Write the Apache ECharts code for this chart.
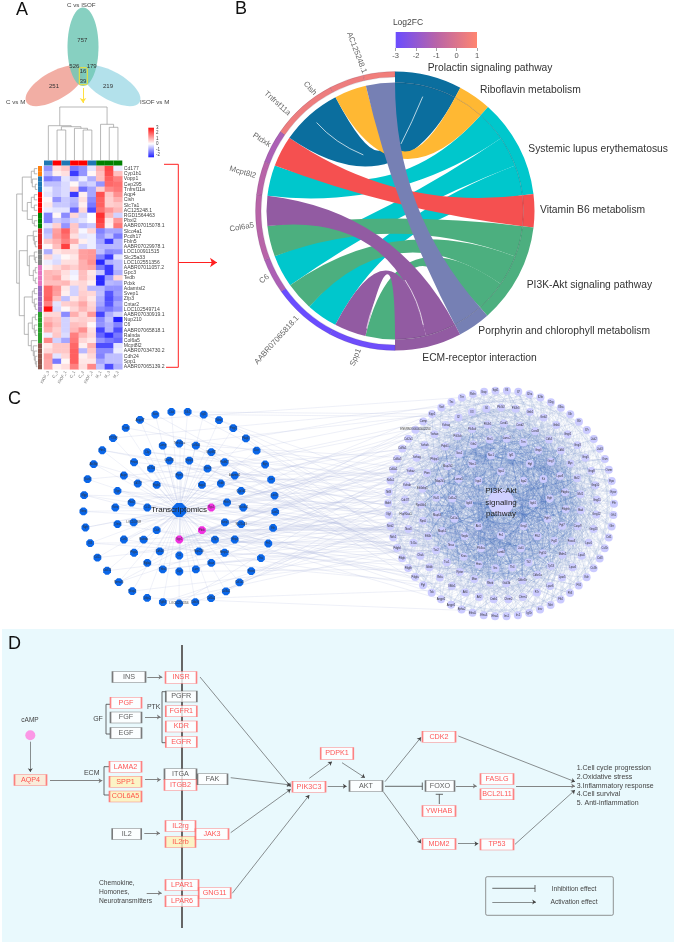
<!DOCTYPE html>
<html><head><meta charset="utf-8">
<style>html,body{margin:0;padding:0;background:#fff}#c{width:674px;height:945px}</style>
<script src="https://cdn.jsdelivr.net/npm/echarts@6/dist/echarts.min.js"></script>
</head><body><div id="c"></div>
<script>
// ---------- DATA ----------
const sampleNames=['ISOF_3','C_3','ISOF_1','C_1','C_2','ISOF_2','M_1','M_3','M_2'];
const sampleGroups=['ISOF','C','ISOF','C','C','ISOF','M','M','M'];
const geneNames=['Cd177','Cyp1b1','Vopp1','Cep295','Tnfrsf11a','Aqp4','Cish','Slc7a1','AC125248.1','RGD1564463','Pbxl2','AABR07015078.1','Slco4a1','Pcdh17','Fbln5','AABR07029978.1','LOC100911515','Slc25a33','LOC102551356','AABR07011057.2','Gpc3','Tedb','Pdxk','Adamtsl2','Svep1','Zfp3','Cntar2','LOC102549714','AABR07030919.1','Nup210','C6','AABR07065818.1','Ralnda','Col6a5','Mcpt8l2','AABR07034730.2','Cdh24','Spp1','AABR07065139.2'];
const geneGroups=[0,0,1,1,1,2,2,2,2,3,3,3,4,4,4,4,5,5,5,6,6,6,6,7,7,7,7,7,8,8,8,8,8,8,9,9,9,9,9];
const heatValues=[
[-1.2,.4,.7,-1.5,-1.2,-.3,1,2.3,-.2],[-.8,.2,.4,-2.2,-1.2,.1,.8,2.2,.8],[-1.5,-1.3,-.3,-.8,-.2,-.9,.8,2,1.6],[-.7,-.7,-.4,.1,-.7,-.5,-1.2,1.9,1.8],[-.2,-.6,-.4,.6,-1.6,-1,.6,1.5,1.7],
[-.3,-.6,-.4,-2.2,.2,-1,2.2,.7,1.4],[.1,-1.2,-.6,-.8,.4,-1.3,2,.6,1],[.3,-.6,-.6,-.9,.2,-1.5,2,.6,.7],[-.2,-.3,-.3,-1.7,.5,-2,1.8,1.3,.9],
[-1.4,.1,-1.3,.5,-.5,0,2.6,.9,-.5],[-1.4,-.6,-.8,-.5,-.3,0,2.4,.3,1.3],[-.3,.6,-1.2,.7,-.8,-.6,2.2,.2,1.7],
[-.8,1.2,2,.7,-.1,.5,-1.4,-1,-1],[-.6,1.3,1.8,.4,-.3,-.2,-1.2,-.7,-1.5],[.7,1,1.6,1,.2,-.2,-1,-2.2,-.8],[.1,.8,2.4,.3,-.5,-.2,-.8,-.8,-.8],
[-.9,.3,.5,.5,1.2,1.3,-.7,-1.3,-1.2],[.5,-.3,.1,.3,1.2,1.3,-1.4,-2.2,-.3],[-.2,-.4,.4,.4,1,1.4,-2.4,-.9,-.7],
[.2,.5,.8,.6,1,1.1,-1.5,-2.2,-.7],[.9,.8,.4,-.2,.8,.3,-.6,-2.2,-.9],[.9,1.1,.3,-.1,.8,.4,-2.4,-1.1,.5],[.8,.8,.9,.4,.5,.2,-2.4,-.8,-.9],
[1.9,1.3,.3,-.5,.5,-.8,-.8,-1.2,-1.2],[1.9,1.2,.2,-.5,.6,.5,-.7,-1.9,-1.1],[2,.8,-.7,.3,.7,.3,-.9,-2,-1.3],[1.6,-.3,.6,.7,1.1,.5,-1,-1.9,-1],[3,-.4,.1,.5,.9,.6,-1.3,-1.5,-1.2],
[.5,.5,-1.3,1,.5,1.3,-2.1,-.9,-.5],[.9,.7,-.5,.5,.6,.5,-1.3,-.7,-2.6],[1.2,.8,-.5,.8,.7,.1,-1.2,-.9,-1.4],[1,.6,-.5,.9,1.4,.4,-2.1,-.9,-2],[-.2,.7,-.4,1.6,.9,.5,-1.7,-2.3,-1.5],[1.5,-.5,-1,1.7,.5,.3,-1.2,-1.5,-1.7],
[.3,.7,.7,1.9,.2,1,-2,-2,-.3],[.5,.7,.7,2,-.8,.7,-1.3,-1.3,-.2],[1.2,-.3,.5,2,.2,.5,-1.4,-.7,-.7],[1.1,-1.5,.1,2,.3,.3,-1,-.7,-.7],[1.1,.2,.4,1.6,.4,1.5,-.7,-2,-.9]];
const colTree=[53,[34.3,1,[33.3,[30,2,3],[31.7,4,[30,5,6]]]],[35.7,7,[32.7,8,9]]];
const rowTree=[20.6,[15,[6,[3,1,2],[5,3,[2,4,5]]],[10,[6,[3,6,7],[3,8,9]],[5,10,[3,11,12]]]],
 [18,[10,[4,13,[3,14,[2,15,16]]],[8,[3,17,[2,18,19]],[4,[2,20,21],[2,22,23]]]],
 [13,[5,[3,24,25],[3,26,[2,27,28]]],[9,[5,[2,29,30],[3,31,[2,32,33]]],[6,34,[4,35,[3,36,[2,37,[1,38,39]]]]]]]]];
const vennCounts=['757','526','179','16','39','251','219'];
const vennSets=['C vs ISOF','C vs M','ISOF vs M'];
// chord: pathway sector start/end (degrees clockwise from top)
const pathways=['Prolactin signaling pathway','Riboflavin metabolism','Systemic lupus erythematosus','Vitamin B6 metabolism','PI3K-Akt signaling pathway','Porphyrin and chlorophyll metabolism','ECM-receptor interaction'];
const pathwayStart=[0,27.9,41.8,83,96.8,138.6,152.2];
const pathwayEnd=[27.9,41.8,83,96.8,138.6,152.2,180];
const chordGenes=['Spp1','AABR07065818.1','C6','Col6a5','Mcpt8l2','Ptdxk','Tnfrsf11a','Cish','AC125248.1'];
const chordGeneStart=[180,207.7,234.7,249.4,276.8,290.7,304.7,332.4,346.9];
const chordGeneEnd=[207.7,234.7,249.4,276.8,290.7,304.7,332.4,346.9,360];
const chordGeneFC=[-2.9,-3,-1.3,-1,-1,-1.3,.5,.5,.6];
// ribbons: pathway index, pathway from/to, gene from/to
const ribbons=[
[2,41.8,55.5,276.8,290.7],[2,55.5,69.2,234.7,249.4],[2,69.2,83,207.7,221.9],
[4,96.8,110.7,249.4,263.3],[4,110.7,124.6,221.9,234.7],[4,124.6,138.6,180,193.3],
[6,152.2,166,263.3,276.8],[6,166,180,193.3,207.7],
[3,83,96.8,290.7,304.7],[0,0,27.9,304.7,332.4],[1,27.9,41.8,332.4,346.9],[5,138.6,152.2,346.9,360]];
const leftNetNames=['Ptpn5','Aqp4','Rgs1','Pdxk','Spp1','Cish','Ccl2','Hspb1',
'Vopp1','Gpc3','Tedb','Fbln5','Svep1','Zfp3','Nup210','C6','Cdh24','Ralnda','LOC100909','Pbxl2','Cd177','Slc7a1','Cep295',
'Tnfrsf11a','Col6a5','Mcpt8l2','Pcdh17','Adamtsl2','Cyp1b1','Slco4a1','Slc25a33','Sfrp4','Mmp13','Acan','Lum','Dpt','Thbs4','Bglap','Ptgs1','Ccn5','Omd','Kera','Ogn','Aspn','Fmod','Cilp','Comp',
'Dlk1','Igf2','Mest','Peg3','Plagl1','Dcn','Bgn','Lox','Loxl1','Loxl2','Eln','Fn1','Tnc','Postn','Col1a1','Col3a1','Col5a2','Ddx3y','LOC102551356','Tgfb3','Ltbp2','Wisp2','Sema3c','Cxcl12','Ccl11','Il33','Ngfr','Nrep','Mgp','Gas6','Abi3bp','Fbn1','PTX3H','Tnxb','Angptl7','Sost','Ctsk'];
const rightNetNames=['Itga1','Itga2','Itgb1','Gng2','Fn1','Akt1','Itgb3','Itga5',
'Igf1','Hgf','Kit','Egfr','Fgfr1','Ptk2','Jak1','Lamb2','Pik3ca','Vegfa','Col1a1','Col1a2','Lama5','Thbs1','Rac1',
'Lamc2','Tnn','Gng4','Gng7','Lpar3','Pdgfra','Pdgfrb','Fgf7','Fgf2','Fgf10','Tlr2','Tlr4','Src','Hras','Kras','Nras','Mapk1','Mapk3','Raf1','Map2k1','Map2k2','Sos1','Grb2','Shc1',
'Ccnd1','Ccnd2','Ccnd3','Cdk4','Cdk6','Myc','Bcl2','Mcl1','Bad','Casp9','Foxo3','Mdm2','Tp53','Cdkn1a','Cdkn1b','Gsk3b','Rheb','Mtor','Rptor','Tsc1','Tsc2','Eif4b','Rps6','Rps6kb1','Eif4ebp1','Pten','Phlpp1','Pdpk1','Pik3cb','Pik3cd','Pik3r1',
'Pik3r2','Pik3r3','Gnb1','Gnb2','Gnb4','Gngt1','Gng3','Gng5','Gng8','Gng10','Gng11','Gng12','Gng13','Lpar1','Lpar2','Lpar4','Lpar5','Lpar6','F2r','Chrm1','Chrm2','Creb1','Atf2','Atf4','Nfkb1','Rela','Ikbkb','Chuk','Tcl1a','Nos3','Hsp90aa1','Cdc37','Ywhab','Ywhaz','Ywhag','Ywhah','Ywhae','Ywhaq',
'Il2','Il3','Il4','Il6','Il7','Il2ra','Il2rb','Il2rg','Il3ra','Il4r','Il6r','Il7r','Jak2','Jak3','Osm','Osmr','Epo','Epor','Prlr','Gh1','Ghr','Csf1','Csf1r','Csf3','Csf3r','Kdr','Flt1','Flt3','Flt4','Met','Insr','Igf1r','Irs1','Ins1','Efna1','Efna3','Efna5','Epha2','Angpt1','Angpt2','Tek','Pgf','Pdgfa','Pdgfb','Pdgfc','Pdgfd','Ntrk1','Ntrk2','Ngf','Bdnf','Ntf3','Nr4a1','Col4a1','Col6a5','Col9a1','Col2a1','ENSRNOG00000042254','Comp','Spp1','Vwf','Tnc','Tnr','Reln','Ibsp','Sgk1'];
const pathwayStepsEffect=['1.Cell cycle progression','2.Oxidative stress','3.Inflammatory response','4.Cell survival','5. Anti-inflammation'];

// ---------- STYLE / LAYOUT ----------
const FF='"Liberation Sans",Arial,sans-serif';
const chordColors=['#0B6E9E','#FFB833','#00C7CC','#F55050','#4CAF7F','#7680B4','#925BA2'];
const groupColors={ISOF:'#1F77B4',C:'#FF0000',M:'#008000'};
const geneGroupColors=['#FF7F0E','#1F77B4','#FF0000','#008000','#D62728','#7F7F7F','#E377C2','#9467BD','#2CA02C','#8C564B'];
const octagon='path://M30,0 L70,0 L100,30 L100,70 L70,100 L30,100 L0,70 L0,30 Z';

function t(x,y,s,size,fill,opt){opt=opt||{};return {type:'text',x,y,z:100,silent:true,rotation:opt.rot?-opt.rot*Math.PI/180:0,
  style:{text:s,fontSize:size,fontFamily:FF,fill,align:opt.align||'left',verticalAlign:'middle',opacity:opt.opacity==null?1:opt.opacity}};}
function hex(c){return [1,3,5].map(i=>parseInt(c.substr(i,2),16));}
function mix(a,b,f){const A=hex(a),B=hex(b);return 'rgb('+A.map((v,i)=>Math.round(v+(B[i]-v)*f)).join(',')+')';}
function fcColor(v){return v<-1?mix('#6A4CFF','#B864A8',(v+3)/2):mix('#B864A8','#FF8570',(v+1)/2);}

// ---------- panel A helpers ----------
const heatData=[];heatValues.forEach((r,i)=>r.forEach((v,j)=>heatData.push([j,i,v])));
const heatStops=[];for(let i=0;i<12;i++){const v=-2.5+i*.5;heatStops.push(v<0?mix('#2020FF','#FFFFFF',(v+2.5)/2.5):mix('#FFFFFF','#FF1010',v/3));}
const H={l:44,t:166,w:78.3,h:203.3};
function treeSegs(node,pos,base,dir,out){ // returns [position,height]
  if(typeof node==='number')return [pos(node),0];
  const a=treeSegs(node[1],pos,base,dir,out),b=treeSegs(node[2],pos,base,dir,out),h=node[0];
  const P=(p,q)=>dir==='col'?[p,base-q]:[base-q,p];
  out.push({coords:[P(a[0],a[1]),P(a[0],h),P(b[0],h),P(b[0],b[1])]});
  return [(a[0]+b[0])/2,h];
}
const dendro=[];
treeSegs(colTree,i=>H.l+(i-.5)*H.w/9,160,'col',dendro);
treeSegs(rowTree,i=>H.t+(i-.5)*H.h/39,37.3,'row',dendro);

// ---------- panel C network ----------
function rings(cx,cy,radii,counts,start){const out=[];radii.forEach((r,k)=>{for(let i=0;i<counts[k];i++){const a=(start[k]+i*360/counts[k])*Math.PI/180;out.push([cx+r*Math.sin(a),cy-r*Math.cos(a)]);}});return out;}
const leftPos=rings(179.3,507.5,[32,48,64,96],[8,15,24,37],[0,12,0,5]);
const rightPos=rings(501,503.5,[32,49,65,80,96,113],[8,15,24,31,41,rightNetNames.length-119],[0,12,5,2,0,3]);
const pink=new Set([2,3,4]);
const netNodes=[],netLinks=[];
const HUB_L=0,HUB_R=1;
netNodes.push({id:'hubL',name:'',value:[179.3,510],symbol:octagon,symbolSize:14,itemStyle:{color:'#0A66E8'}});
netNodes.push({id:'hubR',name:'',value:[501,502],symbol:'circle',symbolSize:26,itemStyle:{color:'#CFCFFF'}});
leftPos.forEach((p,i)=>{netNodes.push({id:'L'+i,name:leftNetNames[i]||'',value:p,symbol:octagon,symbolSize:7.8,itemStyle:{color:pink.has(i)?'#F030E0':'#0A66E8'}});netLinks.push({source:HUB_L,target:i+2,lineStyle:{color:'#8FA0D0',width:.4,opacity:.35}});});
const rOff=2+leftPos.length;
rightPos.forEach((p,i)=>{netNodes.push({id:'R'+i,name:rightNetNames[i]||'',value:p,symbol:'circle',symbolSize:8,itemStyle:{color:'#CBCBFF'}});});
// The hairball's individual edges cannot be read from the picture: this is a fixed connection pattern, not read values.
const R=rightPos.length;
[7,19,37,53,71,88,90].forEach(s=>{for(let i=0;i<R;i++)netLinks.push({source:rOff+i,target:rOff+(i+s)%R,lineStyle:{color:'#5C82C4',width:.4,opacity:.24}});});
const innerCount=78;
[5,13,22,29,31,37].forEach(s=>{for(let i=0;i<innerCount;i++)netLinks.push({source:rOff+i,target:rOff+(i+s)%innerCount,lineStyle:{color:'#3E6CB8',width:.45,opacity:.36}});});
leftPos.forEach((p,i)=>{const n=pink.has(i)?9:(i%3===0?2:1);for(let k=0;k<n;k++){
  const tgt=(i*13+k*29)%R;netLinks.push({source:i+2,target:rOff+tgt,lineStyle:{color:'#A8B6DC',width:.45,opacity:.45}});}});

// ---------- panel D diagram ----------
const redB='#FF6464',redT='#FF2A2A',blkB='#5A5A5A',blkT='#333',yel='#FFF2B8';
const boxes=[
['INS',129,677,33,11,0],['INSR',181,677.5,31,12,1],['PGF',126,702.8,31,11,1],['FGF',126,717.5,31,11,0],['EGF',126,733,31,11,0],
['PGFR',181.3,696.5,31,11,0],['FGFR1',181.3,711.3,31,11,1],['KDR',181.3,726.5,31,11,1],['EGFR',181.3,742,31,11,1],
['AQP4',30.5,780,32,11,2],['LAMA2',125.5,766.8,32,11,1],['SPP1',125.5,781.8,32,11,3],['COL6A5',125.5,796.5,32,11,3],
['ITGA',180.5,774.3,32,11,0],['ITGB2',180.5,785,32,11,1],['FAK',212.5,779.2,30,11,0],['IL2',126.7,834,29,11,0],
['IL2rg',180.5,826,30,11,1],['IL2rb',180.5,842,30,11,3],['JAK3',212,834,33,11,1],['LPAR1',182,885,33,11,1],['LPAR6',182,901.2,33,11,1],['GNG11',214.7,893,32,11,1],
['PIK3C3',309,786.7,33,11,1],['PDPK1',337,753.5,32.6,12,1],['AKT',366,786,33,11,0],['CDK2',439,736.7,33,11,1],['FOXO',440,786,29,11,0],
['YWHAB',439,811,33,11,1],['MDM2',439,844,33,11,1],['TP53',497,844.5,33,11,1],['FASLG',497,779,33,11,1],['BCL2L11',497,794.3,33,11,1]];
const boxData=boxes.map(b=>{const k=b[5];return {name:b[0],value:[b[1],b[2]],symbol:'rect',symbolSize:[b[3],b[4]],
  itemStyle:{color:k===3?yel:k===2?'#FDE8D2':'#fff',borderColor:k===0?blkB:redB,borderWidth:1},
  label:{show:true,position:'inside',formatter:'{b}',color:k===0?blkT:redT,fontSize:7.2,fontFamily:FF}};});
const arrows=[
[[200,677],[290.7,786.7]],[[230.7,777.7],[290.7,785]],[[230.7,832.7],[290.7,789.3]],[[232.3,893.3],[309.3,795]],
[[309.3,778.3],[332,761.7]],[[342,762.7],[365,777.7]],[[327.7,786.3],[346.7,786.3]],[[385,781.7],[421,737.3]],[[383.3,791.7],[421,843.3]],
[[458,843.7],[478.3,843.7]],[[458.3,736],[575,781.7]],[[515,844.3],[575,790]],[[30.3,741.7],[30.3,772]],
[[492.3,902],[536,902]]];
const thickArrows=[[[147.3,677],[162.3,677]],[[145,717],[160.7,717]],[[50,780.7],[102.3,780.7]],[[145,779.7],[160.7,779.7]],[[144.3,833.3],[160,833.3]],[[146.7,893],[161.7,893]],[[456,786],[476.7,786]],[[516,786],[575,786]]];
const plain=[
{coords:[[110,704.3],[106,704.3],[106,734],[110,734]]},{coords:[[166,691.7],[162,691.7],[162,742.7],[166,742.7]]},
{coords:[[109,766.7],[104,766.7],[104,795],[109,795]]},
{coords:[[385,786.3],[422.3,786.3]]},{coords:[[422.3,782.5],[422.3,790]]},
{coords:[[439.3,804],[439.3,794.3]]},{coords:[[435.7,794.3],[443,794.3]]},
{coords:[[492.3,888.3],[535,888.3]]},{coords:[[535,885],[535,892]]}];
const redLines=[{coords:[[164,164.3],[178.3,164.3],[178.3,367.3],[166,367.3]]}];
const slivers=[[.199,.82,.12,.63,.043,.481],[-.562,.634,-.431,.486,-.227,.402],[.072,-.495,.167,-.639,.203,-.818],[-.067,-.507,-.167,-.663,-.203,-.842]];

// ---------- graphics ----------
const g=[];
g.push({type:'rect',z:-1,silent:true,shape:{x:2,y:629,width:672,height:313},style:{fill:'#E9F9FD'}});
g.push(t(16,10,'A',18,'#111'),t(235,9,'B',18,'#111'),t(8,399,'C',18,'#111'),t(8,644,'D',18,'#111'));
const E=(cx,cy,rx,ry,rot,fill)=>({type:'ellipse',z:1,silent:true,x:cx,y:cy,rotation:rot*Math.PI/180,shape:{cx:0,cy:0,rx,ry},style:{fill,opacity:.85}});
g.push(E(55,85.7,33,14,30,'#F0A094'),E(111,85.7,33,14,-30,'#A6DCE8'),E(83,46.7,15.5,39.3,0,'#72C8B6'));
g.push({type:'rect',z:3,silent:true,shape:{x:79.3,y:67.7,width:8,height:17,r:1},style:{fill:'none',stroke:'#F5E030',lineWidth:1}});
[[82.3,40],[74.3,66],[91.7,66],[83,71.3],[83,81.3],[54,86],[108,86]].forEach((p,i)=>g.push(t(p[0],p[1],vennCounts[i],6,'#333',{align:'center'})));
g.push(t(81.3,5,vennSets[0],6.2,'#444',{align:'center'}),t(15.7,102,vennSets[1],6.2,'#444',{align:'center'}),t(154.7,102,vennSets[2],6.2,'#444',{align:'center'}));
g.push({type:'rect',z:3,silent:true,shape:{x:148.3,y:127.7,width:5.7,height:29.6},style:{fill:{type:'linear',x:0,y:0,x2:0,y2:1,colorStops:[{offset:0,color:'#FF1010'},{offset:.545,color:'#fff'},{offset:1,color:'#2020FF'}]}}});
['3','2','1','0','-1','-2'].forEach((s,i)=>g.push(t(156,127.7+i*5.5,s,4.5,'#444')));
// panel B text
g.push(t(408,22.7,'Log2FC',8.5,'#444',{align:'center'}));
[[427.7,68],[480,90.3],[528.3,149],[540,210],[526.7,285.3],[478.3,331],[422.3,357.7]].forEach((p,i)=>g.push(t(p[0],p[1],pathways[i],10.3,'#333')));
[[355.7,357.3,-68],[276.7,340,-48],[264.3,279,-40],[241.7,227.3,-10],[242.7,172.3,16],[261.7,140,33],[277.3,103.3,42],[310,88.3,48],[356.7,52.7,69]].forEach((p,i)=>g.push(t(p[0],p[1],chordGenes[i],7.8,'#666',{align:'center',rot:p[2]})));
// panel C text
g.push(t(179,510,'Transcriptomics',8,'#222',{align:'center'}));
g.push(t(501,491,'PI3K-Akt',8,'#222',{align:'center'}),t(501,502.3,'signaling',8,'#222',{align:'center'}),t(501,513.3,'pathway',8,'#222',{align:'center'}));
// panel D text
g.push(t(98,719,'GF',7,'#444',{align:'center'}),t(153.7,707,'PTK',7,'#444',{align:'center'}),t(91.7,773,'ECM',7,'#444',{align:'center'}),t(30,720,'cAMP',6.5,'#444',{align:'center'}));
['Chemokine,','Homones,','Neurotransmitters'].forEach((s,i)=>g.push(t(99,883.3+i*9,s,6.7,'#444')));
pathwayStepsEffect.forEach((s,i)=>g.push(t(576.7,767.7+i*8.95,s,7,'#444')));
g.push({type:'rect',z:1,silent:true,shape:{x:485.7,y:876.7,width:127.6,height:38.6,r:1.5},style:{fill:'none',stroke:'#777',lineWidth:.8}});
g.push(t(574,889,'Inhibition effect',6.7,'#444',{align:'center'}),t(574,902,'Activation effect',6.7,'#444',{align:'center'}));

// ---------- option ----------
const hidden={show:false};
function axis(type,min,max,inverse){return {type:'value',min,max,inverse:!!inverse,show:false};}
const chordCenter=[395,211],RP=139.5,ext=1.2;
function pt(deg,r){const a=deg*Math.PI/180;return [r*Math.sin(a),r*Math.cos(a)];}
const option={
 animation:false,backgroundColor:'#fff',graphic:{elements:g},
 visualMap:[{show:false,seriesIndex:0,min:-2.5,max:3,inRange:{color:heatStops}}],
 grid:[
  {left:H.l,top:H.t,width:H.w,height:H.h},               //0 heat
  {left:H.l,top:160.5,width:H.w,height:5},               //1 col annotation
  {left:38,top:H.t,width:4,height:H.h},                  //2 row annotation
  {left:chordCenter[0]-ext*RP,top:chordCenter[1]-ext*RP,width:2*ext*RP,height:2*ext*RP}, //3 chord
  {left:395.7,top:32,width:81.3,height:16},              //4 colourbar
  {left:0,top:0,width:674,height:945}                    //5 page
 ],
 xAxis:[
  {gridIndex:0,type:'category',data:sampleNames,axisLine:hidden,axisTick:hidden,splitLine:hidden,axisLabel:{rotate:60,fontSize:4,color:'#666',margin:2,fontFamily:FF,interval:0}},
  {gridIndex:1,type:'category',data:sampleNames,show:false},
  {gridIndex:2,type:'category',data:['group'],show:false},
  Object.assign(axis('value',-ext,ext),{gridIndex:3}),
  {gridIndex:4,type:'value',min:-3,max:1,interval:1,axisLine:hidden,splitLine:hidden,axisTick:{show:true,length:3,lineStyle:{color:'#666',width:.6}},axisLabel:{fontSize:7.5,color:'#555',margin:4,fontFamily:FF}},
  Object.assign(axis('value',0,674),{gridIndex:5})
 ],
 yAxis:[
  {gridIndex:0,type:'category',data:geneNames,inverse:true,position:'right',axisLine:hidden,axisTick:hidden,splitLine:hidden,axisLabel:{fontSize:5.1,color:'#444',margin:1.5,interval:0,fontFamily:FF}},
  {gridIndex:1,type:'category',data:['group'],show:false},
  {gridIndex:2,type:'category',data:geneNames,inverse:true,show:false},
  Object.assign(axis('value',-ext,ext),{gridIndex:3}),
  {gridIndex:4,type:'value',min:0,max:1,show:false},
  Object.assign(axis('value',0,945,true),{gridIndex:5})
 ],
 series:[
  {type:'heatmap',xAxisIndex:0,yAxisIndex:0,data:heatData,silent:true,progressive:0},
  {type:'custom',xAxisIndex:1,yAxisIndex:1,silent:true,data:sampleGroups.map((s,i)=>[i,0]),
   renderItem(p,api){const c=api.coord([api.value(0),0]),s=api.size([1,1]);return {type:'rect',shape:{x:c[0]-s[0]/2,y:c[1]-s[1]/2,width:s[0],height:s[1]},style:{fill:groupColors[sampleGroups[api.value(0)]]}};}},
  {type:'custom',xAxisIndex:2,yAxisIndex:2,silent:true,data:geneGroups.map((s,i)=>[0,i]),
   renderItem(p,api){const c=api.coord([0,api.value(1)]),s=api.size([1,1]);return {type:'rect',shape:{x:c[0]-s[0]/2,y:c[1]-s[1]/2,width:s[0],height:s[1]},style:{fill:geneGroupColors[geneGroups[api.value(1)]]}};}},
  // chord ribbons
  {type:'custom',xAxisIndex:3,yAxisIndex:3,silent:true,z:3,clip:false,data:ribbons,
   renderItem(p,api){const rIn=.921,v=[0,1,2,3,4].map(i=>api.value(i));
    const P=(d,r)=>api.coord(pt(d,r)),C=api.coord([0,0]),rp=Math.abs(api.coord([rIn,0])[0]-C[0]);
    const a0=P(v[1],rIn),a1=P(v[2],rIn),b0=P(v[3],rIn),b1=P(v[4],rIn);
    const d=`M${a0} A${rp},${rp} 0 0 1 ${a1} Q${C} ${b0} A${rp},${rp} 0 0 1 ${b1} Q${C} ${a0} Z`;
    return {type:'path',shape:{pathData:d},style:{fill:chordColors[v[0]]}};}},
  // white slivers inside ribbons
  {type:'custom',xAxisIndex:3,yAxisIndex:3,silent:true,z:4,clip:false,data:slivers,
   renderItem(p,api){const c=i=>api.coord([api.value(i),api.value(i+1)]);
    return {type:'path',shape:{pathData:`M${c(0)} Q${c(2)} ${c(4)}`},style:{fill:'none',stroke:'#fff',lineWidth:.7}};}},
  // pathway blocks
  {type:'custom',xAxisIndex:3,yAxisIndex:3,silent:true,z:5,clip:false,data:pathways.map((n,i)=>[pathwayStart[i],pathwayEnd[i],i]),
   renderItem(p,api){const a=api.value(0),b=api.value(1),i=api.value(2),rI=.921,rO=1;const P=(d,r)=>api.coord(pt(d,r)),C=api.coord([0,0]);
    const ro=Math.abs(api.coord([rO,0])[0]-C[0]),ri=Math.abs(api.coord([rI,0])[0]-C[0]);
    return {type:'group',children:[
     {type:'path',shape:{pathData:`M${P(a,rI)} L${P(a,rO)} A${ro},${ro} 0 0 1 ${P(b,rO)} L${P(b,rI)} A${ri},${ri} 0 0 0 ${P(a,rI)} Z`},style:{fill:chordColors[i]}},
     {type:'path',shape:{pathData:`M${P(a,rI)} A${ri},${ri} 0 0 1 ${P(b,rI)}`},style:{fill:'none',stroke:'rgba(40,40,60,.45)',lineWidth:.5}}]};}},
  // gene ring
  {type:'custom',xAxisIndex:3,yAxisIndex:3,silent:true,z:5,clip:false,data:chordGenes.map((n,i)=>[chordGeneStart[i],chordGeneEnd[i],chordGeneFC[i]]),
   renderItem(p,api){const a=api.value(0),b=api.value(1),rI=.96,rO=1;const P=(d,r)=>api.coord(pt(d,r)),C=api.coord([0,0]);
    const ro=Math.abs(api.coord([rO,0])[0]-C[0]),ri=Math.abs(api.coord([rI,0])[0]-C[0]);
    return {type:'path',shape:{pathData:`M${P(a,rI)} L${P(a,rO)} A${ro},${ro} 0 0 1 ${P(b,rO)} L${P(b,rI)} A${ri},${ri} 0 0 0 ${P(a,rI)} Z`},style:{fill:fcColor(api.value(2)),stroke:'rgba(60,40,80,.35)',lineWidth:.4}};}},
  // colourbar
  {type:'custom',xAxisIndex:4,yAxisIndex:4,silent:true,data:[[-3,1]],
   renderItem(p,api){const a=api.coord([api.value(0),1]),b=api.coord([api.value(1),0]);
    return {type:'rect',shape:{x:a[0],y:a[1],width:b[0]-a[0],height:b[1]-a[1]},style:{fill:{type:'linear',x:0,y:0,x2:1,y2:0,colorStops:[{offset:0,color:'#6A4CFF'},{offset:.5,color:'#B864A8'},{offset:1,color:'#FF8570'}]}}};}},
  // dendrograms + yellow arrow etc. (page grid)
  {type:'lines',coordinateSystem:'cartesian2d',xAxisIndex:5,yAxisIndex:5,polyline:true,silent:true,data:dendro,symbol:'none',lineStyle:{color:'#9A9A9A',width:.7,opacity:1}},
  {type:'lines',coordinateSystem:'cartesian2d',xAxisIndex:5,yAxisIndex:5,polyline:true,silent:true,data:redLines,symbol:'none',lineStyle:{color:'#FF2020',width:1,opacity:1}},
  {type:'lines',coordinateSystem:'cartesian2d',xAxisIndex:5,yAxisIndex:5,silent:true,data:[{coords:[[179,262.5],[217,262.5]]}],symbol:['none','arrow'],symbolSize:7,lineStyle:{color:'#FF2020',width:1,opacity:1}},
  {type:'lines',coordinateSystem:'cartesian2d',xAxisIndex:5,yAxisIndex:5,silent:true,data:[{coords:[[83,88],[83,103]]}],symbol:['none','arrow'],symbolSize:5,lineStyle:{color:'#FFE040',width:1,opacity:1}},
  // network
  {type:'graph',coordinateSystem:'cartesian2d',xAxisIndex:5,yAxisIndex:5,silent:true,roam:false,z:3,data:netNodes,links:netLinks,edgeSymbol:['none','none'],
   label:{show:true,position:'inside',formatter:'{b}',fontSize:2.7,color:'#333',fontFamily:FF},emphasis:{disabled:true}},
  // panel D membrane, lines, boxes
  {type:'lines',coordinateSystem:'cartesian2d',xAxisIndex:5,yAxisIndex:5,silent:true,z:2,data:[{coords:[[182,645],[182,928]]}],symbol:'none',lineStyle:{color:'#666',width:2,opacity:1}},
  {type:'lines',coordinateSystem:'cartesian2d',xAxisIndex:5,yAxisIndex:5,silent:true,z:3,data:arrows.map(c=>({coords:c})),symbol:['none','arrow'],symbolSize:3.8,lineStyle:{color:'#444',width:.6,opacity:1}},
  {type:'lines',coordinateSystem:'cartesian2d',xAxisIndex:5,yAxisIndex:5,silent:true,z:3,data:thickArrows.map(c=>({coords:c})),symbol:['none','arrow'],symbolSize:3.8,lineStyle:{color:'#777',width:.9,opacity:1}},
  {type:'lines',coordinateSystem:'cartesian2d',xAxisIndex:5,yAxisIndex:5,polyline:true,silent:true,z:3,data:plain,symbol:'none',lineStyle:{color:'#444',width:.8,opacity:1}},
  {type:'scatter',xAxisIndex:5,yAxisIndex:5,silent:true,z:4,data:boxData},
  {type:'scatter',xAxisIndex:5,yAxisIndex:5,silent:true,z:4,symbolSize:10,itemStyle:{color:'#FF80E0'},data:[[30.3,735.3]]}
 ]
};
const chart=echarts.init(document.getElementById('c'),null,{renderer:'canvas',width:674,height:945});
chart.setOption(option);
</script></body></html>
